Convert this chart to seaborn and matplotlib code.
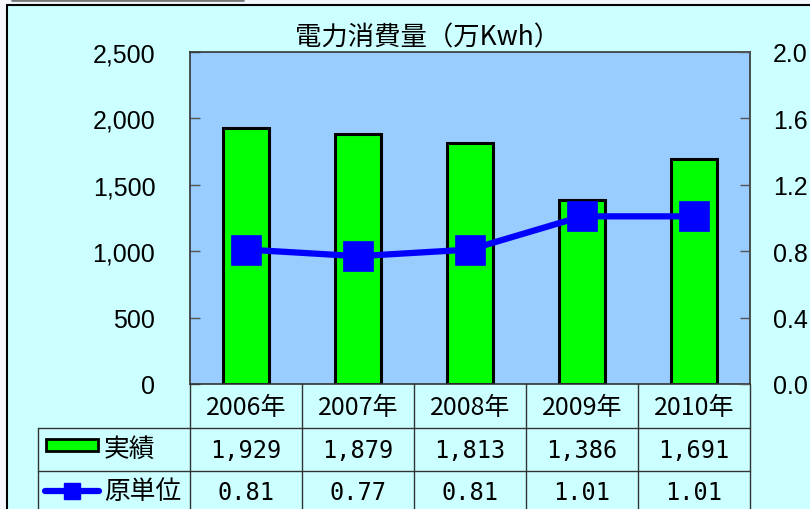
import matplotlib
matplotlib.use("Agg")
import matplotlib.pyplot as plt
import seaborn as sns
import pandas as pd
from matplotlib.lines import Line2D
from matplotlib.patches import Rectangle

years = ["2006年", "2007年", "2008年", "2009年", "2010年"]
actual = [1929, 1879, 1813, 1386, 1691]
unit = [0.81, 0.77, 0.81, 1.01, 1.01]
left_ticks = [0, 500, 1000, 1500, 2000, 2500]
right_ticks = [0.0, 0.4, 0.8, 1.2, 1.6, 2.0]
title = "電力消費量（万Kwh）"
series_names = ["実績", "原単位"]

sns.set_theme(style="white")
plt.rcParams['font.family'] = ['Noto Sans CJK JP', 'DejaVu Sans']
plt.rcParams['text.color'] = 'black'
plt.rcParams['ytick.labelcolor'] = 'black'

W, H = 810, 510
fig = plt.figure(figsize=(W / 100, H / 100), dpi=100)
fig.patch.set_facecolor("#F4F8FC")

def fx(px):
    return px / W

def fy(py):
    return 1 - py / H

# chart area background
fig.add_artist(Rectangle((fx(7), 0), 1 - fx(7), fy(6), transform=fig.transFigure,
                         facecolor="#CCFFFF", edgecolor="none", zorder=-10))
fig.add_artist(Line2D([fx(7), fx(7)], [0, fy(6)], transform=fig.transFigure, color="black", lw=1.5))
fig.add_artist(Line2D([fx(7), 1], [fy(6), fy(6)], transform=fig.transFigure, color="black", lw=1.5))
fig.add_artist(Line2D([fx(12), fx(243)], [fy(0.8), fy(0.8)], transform=fig.transFigure, color="#777777", lw=2))

L, R, T, B = 190, 750, 53, 385
ax = fig.add_axes([fx(L), fy(B), fx(R - L), (B - T) / H])
ax.set_facecolor("#99CCFF")

df = pd.DataFrame({"year": years, "actual": actual, "unit": unit})
sns.barplot(data=df, x="year", y="actual", ax=ax, color="#00FF00", saturation=1,
            edgecolor="black", linewidth=2.2, width=0.41, zorder=2)
ax.set_ylim(0, 2500)
ax.set_yticks(left_ticks)
ax.set_yticklabels([f"{v:,}" for v in left_ticks], fontsize=18, family="Liberation Sans", color="black")
ax.set_xticks([])
ax.set_xlabel("")
ax.set_ylabel("")
ax.tick_params(axis="y", direction="in", length=7, width=1, color="#555555", pad=25, left=True)
for s in ax.spines.values():
    s.set_color("#333333")
    s.set_linewidth(1.2)

ax2 = ax.twinx()
sns.pointplot(data=df, x="year", y="unit", ax=ax2, color="#0000FF", markers="s",
              markersize=19, linewidth=4.5, errorbar=None)
ax2.set_ylim(0, 2.0)
ax2.set_yticks(right_ticks)
ax2.set_yticklabels([f"{v:.1f}" for v in right_ticks], fontsize=18, family="Liberation Sans", color="black")
ax2.tick_params(axis="y", direction="in", length=7, width=1, color="#555555", pad=16.5, right=True)
ax2.set_ylabel("")
ax2.set_xlabel("")
ax2.set_xlim(-0.5, len(years) - 0.5)
ax.set_xlim(-0.5, len(years) - 0.5)
for s in ax2.spines.values():
    s.set_visible(False)

fig.text(fx(428), fy(38), title, ha="center", va="center", fontsize=19, color="black")

# data table
lc = "#333333"
colw = (R - L) / len(years)
for i in range(len(years) + 1):
    x = L + i * colw
    fig.add_artist(Line2D([fx(x), fx(x)], [fy(B), 0], transform=fig.transFigure, color=lc, lw=1))
fig.add_artist(Line2D([fx(38), fx(38)], [fy(429), 0], transform=fig.transFigure, color=lc, lw=1))
for y in (429, 472):
    fig.add_artist(Line2D([fx(38), fx(R)], [fy(y), fy(y)], transform=fig.transFigure, color=lc, lw=1))

mono = ["DejaVu Sans Mono", "Noto Sans CJK JP"]
for i, yr in enumerate(years):
    cx = L + (i + 0.5) * colw
    fig.text(fx(cx), fy(408), yr, ha="center", va="center", fontsize=18, color="black")
    fig.text(fx(cx), fy(451), f"{actual[i]:,}", ha="center", va="center", fontsize=17, family=mono, color="black")
    fig.text(fx(cx), fy(493), f"{unit[i]:.2f}", ha="center", va="center", fontsize=17, family=mono, color="black")

# legend keys
fig.add_artist(Rectangle((fx(46), fy(452)), fx(98) - fx(46), (452 - 440) / H, transform=fig.transFigure,
                         facecolor="#00FF00", edgecolor="black", lw=2))
fig.text(fx(104), fy(450), series_names[0], ha="left", va="center", fontsize=18.5, color="black")
fig.add_artist(Line2D([fx(45), fx(99)], [fy(492), fy(492)], transform=fig.transFigure, color="#0000FF", lw=4.5))
fig.add_artist(Line2D([fx(72)], [fy(492)], transform=fig.transFigure, color="#0000FF", marker="s",
                      markersize=12, linestyle="none"))
fig.text(fx(104), fy(492), series_names[1], ha="left", va="center", fontsize=18.5, color="black")

fig.savefig("out.png", dpi=100, facecolor=fig.get_facecolor())
